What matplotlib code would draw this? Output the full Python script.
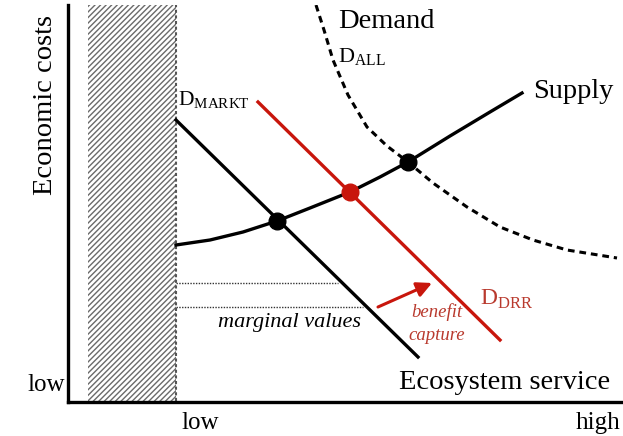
import matplotlib
matplotlib.use("Agg")
import matplotlib.pyplot as plt
from matplotlib.patches import Rectangle

plt.rcParams["font.family"] = "Liberation Serif"
plt.rcParams["mathtext.fontset"] = "custom"
plt.rcParams["mathtext.rm"] = "Liberation Serif"
plt.rcParams["hatch.linewidth"] = 1.0

# values in chart units (x: ecosystem service, y: economic costs)
supply_x = [108, 142, 175, 209, 242, 282, 312, 340, 382, 422, 454]
supply_y = [157, 162, 170, 181, 194, 210, 225, 240, 266, 290, 309]

demand_all_x = [248, 256, 265, 280, 299, 319, 340, 365, 399, 432, 465, 499, 549]
demand_all_y = [397, 372, 342, 307, 275, 256, 240, 219, 195, 175, 162, 152, 144]

d_markt_x = [108, 350]
d_markt_y = [282, 45]
d_drr_x = [190, 432]
d_drr_y = [300, 62]

equil_x = [209, 340]
equil_y = [181, 240]
drr_equil_x = [282]
drr_equil_y = [210]

marginal_y = [119, 95]
marginal_xend = [270, 295]

excluded_x = [20, 108]
arrow_from = (310, 95)
arrow_to = (364, 119)

red = "#c8160c"
text_red = "#b93a2e"

fig = plt.figure(figsize=(6.23, 4.36), dpi=100)
ax = fig.add_axes([68 / 623, 34 / 436, 555 / 623, 397 / 436])
ax.set_xlim(0, 555)
ax.set_ylim(0, 397)
for s in ["top", "right"]:
    ax.spines[s].set_visible(False)
for s in ["left", "bottom"]:
    ax.spines[s].set_linewidth(2.4)
ax.set_xticks([])
ax.set_yticks([])

# excluded (hatched) zone
ax.add_patch(Rectangle((excluded_x[0], 1), excluded_x[1] - excluded_x[0], 396,
                       facecolor="white", edgecolor="#6a6a6a", lw=0, hatch="//////"))
ax.plot([excluded_x[1], excluded_x[1]], [1, 397], color="#555555", lw=1.5,
        linestyle=(0, (1.5, 1.2)))

# marginal value guides
for yv, xe in zip(marginal_y, marginal_xend):
    ax.plot([excluded_x[1], xe], [yv, yv], color="#333333", lw=1.0, linestyle=(0, (1, 1)))

ax.plot(demand_all_x, demand_all_y, color="black", lw=2.2, linestyle=(0, (2.2, 1.6)))
ax.plot(supply_x, supply_y, color="black", lw=2.4, solid_joinstyle="round")
ax.plot(d_markt_x, d_markt_y, color="black", lw=2.4)
ax.plot(d_drr_x, d_drr_y, color=red, lw=2.4)

ax.plot(equil_x, equil_y, "o", color="black", ms=12)
ax.plot(drr_equil_x, drr_equil_y, "o", color=red, ms=12)

ax.annotate("", xy=arrow_to, xytext=arrow_from,
            arrowprops=dict(arrowstyle="-|>,head_length=0.9,head_width=0.45",
                            color=red, lw=2.2, shrinkA=0, shrinkB=0))

# labels
ax.text(-22, 297, "Economic costs", rotation=90, ha="center", va="center", fontsize=20.5)
ax.text(542, 20, "Ecosystem service", ha="right", va="center", fontsize=20.5)
ax.text(-3, 17, "low", ha="right", va="center", fontsize=18)
ax.text(132, -21, "low", ha="center", va="center", fontsize=18)
ax.text(530, -21, "high", ha="center", va="center", fontsize=18)

ax.text(270, 380, "Demand", ha="left", va="center", fontsize=20.5)
ax.text(270, 345, r"D$_{\mathrm{ALL}}$", ha="left", va="center", fontsize=16)
ax.text(465, 310, "Supply", ha="left", va="center", fontsize=20.5)
ax.text(110, 302, r"D$_{\mathrm{MARKT}}$", ha="left", va="center", fontsize=15.5)
ax.text(412, 103, r"D$_{\mathrm{DRR}}$", ha="left", va="center", fontsize=17, color=text_red)
ax.text(369, 90, "benefit", ha="center", va="center", fontsize=13.5, style="italic", color=text_red)
ax.text(369, 67, "capture", ha="center", va="center", fontsize=13.5, style="italic", color=text_red)
ax.text(150, 80, "marginal values", ha="left", va="center", fontsize=16, style="italic")

fig.savefig("out.png", dpi=100)
